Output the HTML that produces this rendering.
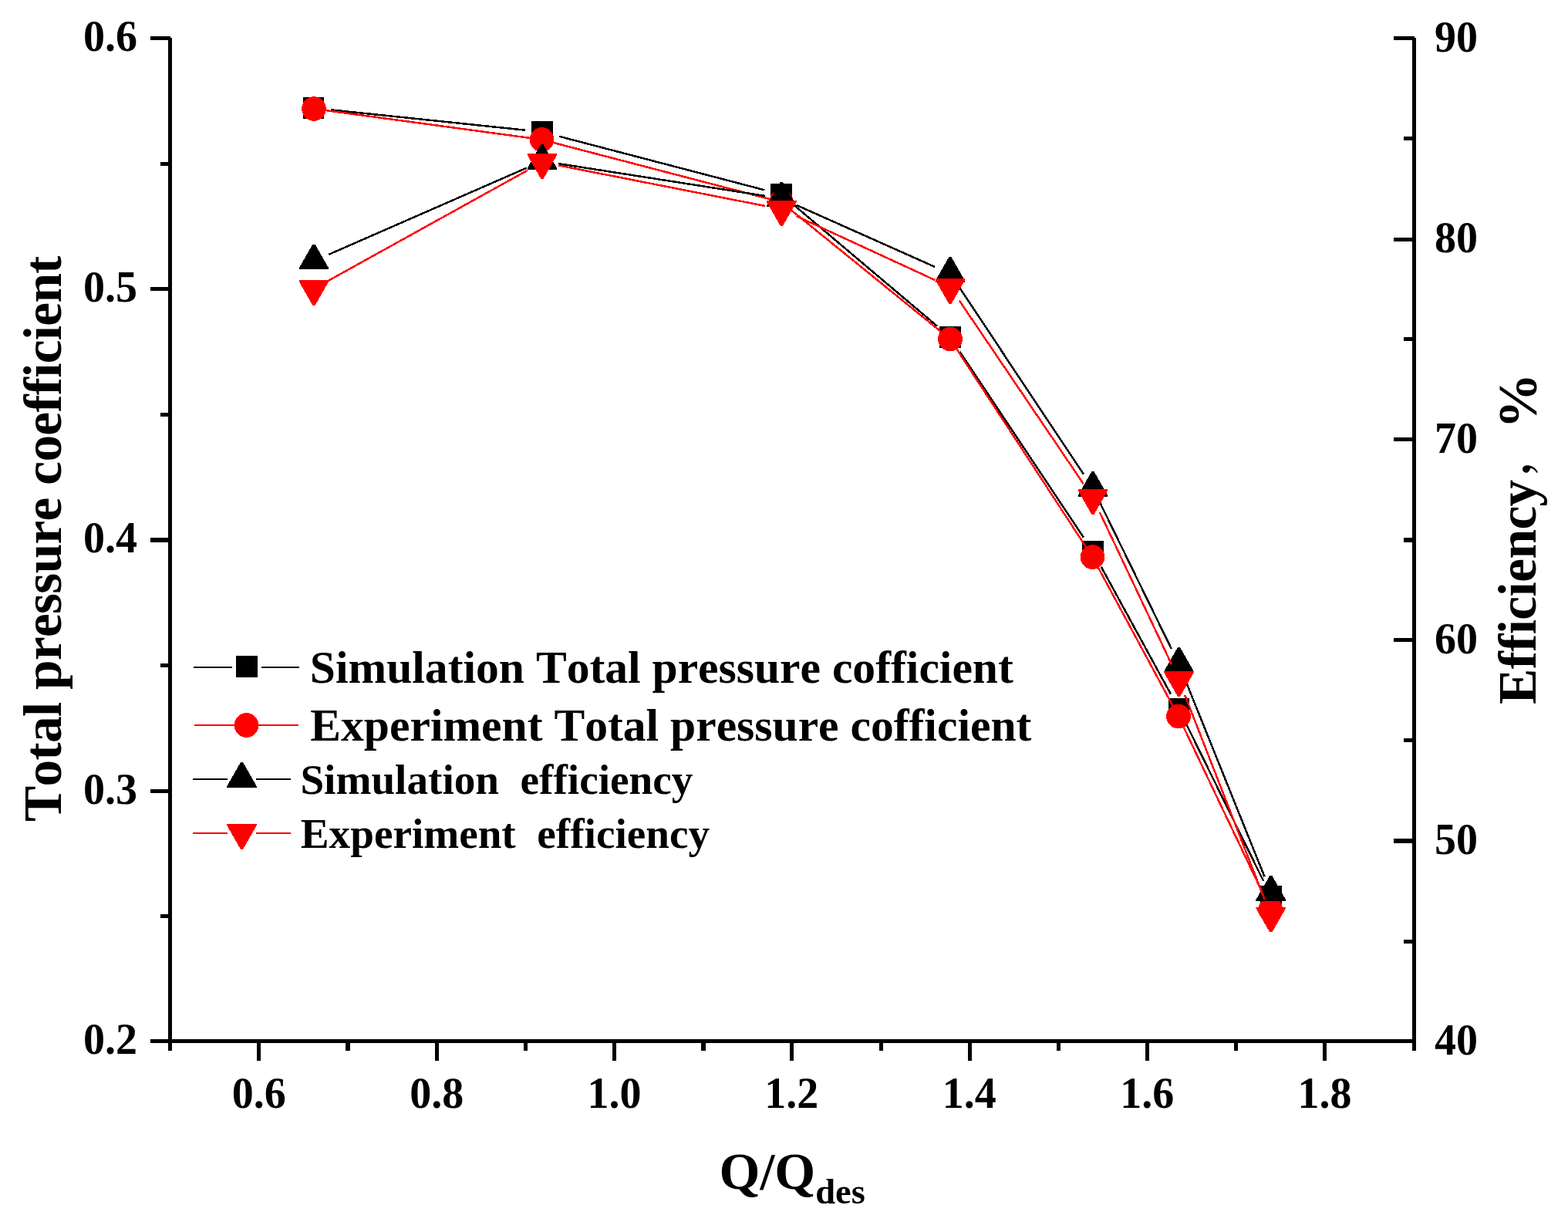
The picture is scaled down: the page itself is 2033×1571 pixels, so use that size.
<!DOCTYPE html>
<html lang="en"><head><meta charset="utf-8"><title>Total pressure coefficient and efficiency vs Q/Qdes</title>
<style>
html,body{margin:0;padding:0;background:#fff;}
body{width:2033px;height:1571px;}
svg{display:block;}
text{font-family:"Liberation Serif","Noto Serif CJK SC",serif;font-weight:bold;fill:#000;font-variant-ligatures:none;font-kerning:none;}
.tk{font-size:56px;}
.ti{font-size:68px;}
.l1{font-size:59.6px;}
.l2{font-size:55.2px;}
.ax{fill:#000;shape-rendering:crispEdges;}
.k{fill:#000;stroke:none;shape-rendering:crispEdges;}
.r{fill:#f00;stroke:none;shape-rendering:crispEdges;}
.kl{stroke:#000;stroke-width:2.5;fill:none;shape-rendering:crispEdges;}
.rl{stroke:#f00;stroke-width:2.5;fill:none;shape-rendering:crispEdges;}
</style></head><body>
<svg width="2033" height="1571" viewBox="0 0 2033 1571" role="img" aria-label="Total pressure coefficient and efficiency versus Q/Qdes">
<rect x="0" y="0" width="2033" height="1571" fill="#fff"/>
<g id="axes">
<rect class="ax" x="218" y="49" width="5" height="1313"/>
<rect class="ax" x="1831" y="49" width="5" height="1313"/>
<rect class="ax" x="218" y="1347" width="1618" height="5"/>
<rect class="ax" x="195" y="47" width="25.5" height="5"/>
<rect class="ax" x="195" y="372" width="25.5" height="5"/>
<rect class="ax" x="195" y="697" width="25.5" height="6"/>
<rect class="ax" x="195" y="1023" width="25.5" height="5"/>
<rect class="ax" x="195" y="1347" width="25.5" height="5"/>
<rect class="ax" x="208" y="210" width="12.5" height="5"/>
<rect class="ax" x="208" y="535" width="12.5" height="5"/>
<rect class="ax" x="208" y="860" width="12.5" height="5"/>
<rect class="ax" x="208" y="1185" width="12.5" height="5"/>
<rect class="ax" x="1807" y="47" width="26.5" height="5"/>
<rect class="ax" x="1807" y="308" width="26.5" height="5"/>
<rect class="ax" x="1807" y="567" width="26.5" height="5"/>
<rect class="ax" x="1807" y="827" width="26.5" height="5"/>
<rect class="ax" x="1807" y="1087" width="26.5" height="6"/>
<rect class="ax" x="1807" y="1347" width="26.5" height="5"/>
<rect class="ax" x="1820" y="177" width="13.5" height="5"/>
<rect class="ax" x="1820" y="437" width="13.5" height="5"/>
<rect class="ax" x="1820" y="697" width="13.5" height="6"/>
<rect class="ax" x="1820" y="957" width="13.5" height="5"/>
<rect class="ax" x="1820" y="1218" width="13.5" height="5"/>
<rect class="ax" x="333" y="1349.5" width="5" height="25.5"/>
<rect class="ax" x="564" y="1349.5" width="5" height="25.5"/>
<rect class="ax" x="794" y="1349.5" width="5" height="25.5"/>
<rect class="ax" x="1024" y="1349.5" width="5" height="25.5"/>
<rect class="ax" x="1255" y="1349.5" width="5" height="25.5"/>
<rect class="ax" x="1485" y="1349.5" width="5" height="25.5"/>
<rect class="ax" x="1715" y="1349.5" width="5" height="25.5"/>
<rect class="ax" x="448" y="1349.5" width="6" height="12.5"/>
<rect class="ax" x="679" y="1349.5" width="5" height="12.5"/>
<rect class="ax" x="909" y="1349.5" width="6" height="12.5"/>
<rect class="ax" x="1140" y="1349.5" width="5" height="12.5"/>
<rect class="ax" x="1370" y="1349.5" width="5" height="12.5"/>
<rect class="ax" x="1600" y="1349.5" width="5" height="12.5"/>
</g>
<g id="ticklabels" class="tk">
<text x="178" y="66" text-anchor="end">0.6</text>
<text x="178" y="391" text-anchor="end">0.5</text>
<text x="178" y="716" text-anchor="end">0.4</text>
<text x="178" y="1042" text-anchor="end">0.3</text>
<text x="178" y="1366" text-anchor="end">0.2</text>
<text x="1860" y="66.5" text-anchor="start">90</text>
<text x="1860" y="326.5" text-anchor="start">80</text>
<text x="1860" y="586.5" text-anchor="start">70</text>
<text x="1860" y="846.5" text-anchor="start">60</text>
<text x="1860" y="1106.5" text-anchor="start">50</text>
<text x="1860" y="1366.5" text-anchor="start">40</text>
<text x="335.71" y="1436" text-anchor="middle">0.6</text>
<text x="566.14" y="1436" text-anchor="middle">0.8</text>
<text x="796.57" y="1436" text-anchor="middle">1.0</text>
<text x="1026.3" y="1436" text-anchor="middle">1.2</text>
<text x="1256.73" y="1436" text-anchor="middle">1.4</text>
<text x="1487.16" y="1436" text-anchor="middle">1.6</text>
<text x="1717.59" y="1436" text-anchor="middle">1.8</text>
</g>
<g id="titles" class="ti">
<text transform="translate(79.3 1065) rotate(-90)" text-anchor="start" font-size="69.5" textLength="733.5" lengthAdjust="spacing">Total pressure coefficient</text>
<text transform="translate(1991.3 913) rotate(-90)" text-anchor="start"><tspan font-size="69.5" letter-spacing="-0.65">Efficiency</tspan><tspan font-size="54" dx="6.6" dy="-9">，</tspan><tspan font-size="72" dx="6" dy="10">%</tspan></text>
<text x="932.5" y="1540.7" text-anchor="start">Q/Q<tspan dy="19" font-size="46.5">des</tspan></text>
</g>
<g id="series-sim-pressure">
<line class="kl" x1="428.98" y1="142.35" x2="680.92" y2="168.69"/>
<line class="kl" x1="724.87" y1="176.71" x2="991.52" y2="246.39"/>
<line class="kl" x1="1030.26" y1="266.58" x2="1215.04" y2="422.67"/>
<line class="kl" x1="1244.52" y1="455.81" x2="1404.7" y2="696.52"/>
<line class="kl" x1="1427.84" y1="734.83" x2="1517.85" y2="899.52"/>
<line class="kl" x1="1538.47" y1="939.28" x2="1638.2" y2="1142.08"/>
<rect class="k" x="392.7" y="126.2" width="27.6" height="27.6"/>
<rect class="k" x="689.2" y="157.2" width="27.6" height="27.6"/>
<rect class="k" x="999.2" y="238.2" width="27.6" height="27.6"/>
<rect class="k" x="1218.2" y="423.2" width="27.6" height="27.6"/>
<rect class="k" x="1403.2" y="701.2" width="27.6" height="27.6"/>
<rect class="k" x="1514.7" y="905.2" width="27.6" height="27.6"/>
<rect class="k" x="1634.2" y="1148.2" width="27.6" height="27.6"/>
</g>
<g id="series-exp-pressure">
<line class="rl" x1="407" y1="141" x2="702.5" y2="181"/>
<line class="rl" x1="702.5" y1="181" x2="1013" y2="262"/>
<line class="rl" x1="1013" y1="262" x2="1232" y2="439.6"/>
<line class="rl" x1="1232" y1="439.6" x2="1416.5" y2="722"/>
<line class="rl" x1="1416.5" y1="722" x2="1528" y2="928.6"/>
<line class="rl" x1="1528" y1="928.6" x2="1647.3" y2="1179"/>
<circle class="r" cx="407" cy="141" r="15.8"/>
<circle class="r" cx="702.5" cy="181" r="15.8"/>
<circle class="r" cx="1013" cy="262" r="15.8"/>
<circle class="r" cx="1232" cy="439.6" r="15.8"/>
<circle class="r" cx="1416.5" cy="722" r="15.8"/>
<circle class="r" cx="1528" cy="928.6" r="15.8"/>
<circle class="r" cx="1647.3" cy="1179" r="15.8"/>
</g>
<g id="series-sim-eff">
<line class="kl" x1="426.24" y1="329.88" x2="682.84" y2="217.62"/>
<line class="kl" x1="723.75" y1="212.04" x2="991.66" y2="253.9"/>
<line class="kl" x1="1032.58" y1="265.85" x2="1211.91" y2="345.84"/>
<line class="kl" x1="1243.63" y1="372.28" x2="1404.81" y2="614.48"/>
<line class="kl" x1="1426.23" y1="651.66" x2="1518.84" y2="841.04"/>
<line class="kl" x1="1536.35" y1="880.28" x2="1639.58" y2="1136.39"/>
<polygon class="k" points="405.4,316.7 408.6,316.7 426.4,347.8 426.4,349.3 387.6,349.3 387.6,347.8"/>
<polygon class="k" points="701.4,187.2 704.6,187.2 722.4,218.3 722.4,219.8 683.6,219.8 683.6,218.3"/>
<polygon class="k" points="1011.8,235.7 1015,235.7 1032.8,266.8 1032.8,268.3 994,268.3 994,266.8"/>
<polygon class="k" points="1230.4,333.2 1233.6,333.2 1251.4,364.3 1251.4,365.8 1212.6,365.8 1212.6,364.3"/>
<polygon class="k" points="1415.4,611.2 1418.6,611.2 1436.4,642.3 1436.4,643.8 1397.6,643.8 1397.6,642.3"/>
<polygon class="k" points="1526.9,839.2 1530.1,839.2 1547.9,870.3 1547.9,871.8 1509.1,871.8 1509.1,870.3"/>
<polygon class="k" points="1646.2,1135.2 1649.4,1135.2 1667.2,1166.3 1667.2,1167.8 1628.4,1167.8 1628.4,1166.3"/>
</g>
<g id="series-exp-eff">
<line class="rl" x1="425.37" y1="364.02" x2="683.76" y2="220.86"/>
<line class="rl" x1="723.61" y1="214.25" x2="991.81" y2="266.96"/>
<line class="rl" x1="1032.46" y1="280.01" x2="1212.03" y2="362.97"/>
<line class="rl" x1="1243.78" y1="389.58" x2="1404.66" y2="626.99"/>
<line class="rl" x1="1425.97" y1="664.19" x2="1519.1" y2="861.31"/>
<line class="rl" x1="1536.14" y1="900.76" x2="1639.8" y2="1166.21"/>
<polygon class="r" points="387.6,363.2 426.4,363.2 426.4,364.7 408.6,395.8 405.4,395.8 387.6,364.7"/>
<polygon class="r" points="683.6,199.2 722.4,199.2 722.4,200.7 704.6,231.8 701.4,231.8 683.6,200.7"/>
<polygon class="r" points="994,260.2 1032.8,260.2 1032.8,261.7 1015,292.8 1011.8,292.8 994,261.7"/>
<polygon class="r" points="1212.6,361.2 1251.4,361.2 1251.4,362.7 1233.6,393.8 1230.4,393.8 1212.6,362.7"/>
<polygon class="r" points="1397.6,634.2 1436.4,634.2 1436.4,635.7 1418.6,666.8 1415.4,666.8 1397.6,635.7"/>
<polygon class="r" points="1509.1,870.2 1547.9,870.2 1547.9,871.7 1530.1,902.8 1526.9,902.8 1509.1,871.7"/>
<polygon class="r" points="1628.4,1175.7 1667.2,1175.7 1667.2,1177.2 1649.4,1208.3 1646.2,1208.3 1628.4,1177.2"/>
</g>
<g id="legend">
<rect class="k" x="251" y="864" width="50" height="2"/>
<rect class="k" x="339" y="864" width="49" height="2"/>
<rect class="k" x="306.2" y="850.2" width="27.6" height="27.6"/>
<text class="l1" x="401.8" y="885">Simulation Total pressure cofficient</text>
<rect class="r" x="252" y="939" width="135" height="2"/>
<circle class="r" cx="319.5" cy="940" r="15.8"/>
<text class="l1" x="402.3" y="959.5">Experiment Total pressure cofficient</text>
<rect class="k" x="250" y="1009" width="45" height="2"/>
<rect class="k" x="332" y="1009" width="45" height="2"/>
<polygon class="k" points="311.9,988.2 315.1,988.2 332.9,1019.3 332.9,1020.8 294.1,1020.8 294.1,1019.3"/>
<text class="l2" x="389.4" y="1029" xml:space="preserve">Simulation  efficiency</text>
<rect class="r" x="250" y="1079" width="45" height="2"/>
<rect class="r" x="332" y="1079" width="45" height="2"/>
<polygon class="r" points="294.1,1068.2 332.9,1068.2 332.9,1069.7 315.1,1100.8 311.9,1100.8 294.1,1069.7"/>
<text class="l2" x="389.8" y="1098.7" xml:space="preserve">Experiment  efficiency</text>
</g>
</svg></body></html>
